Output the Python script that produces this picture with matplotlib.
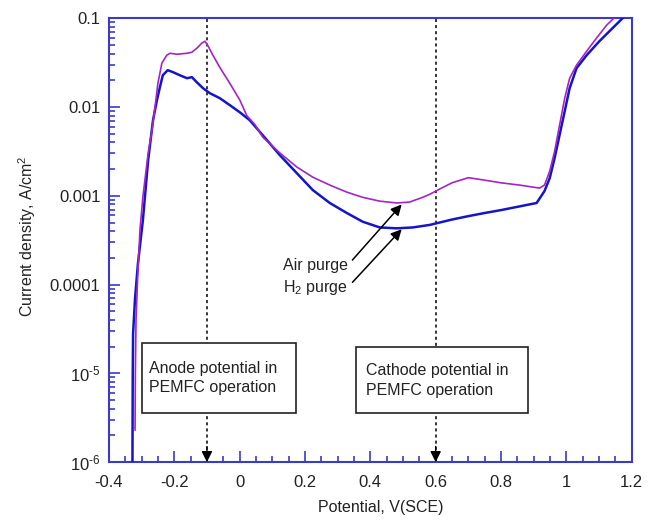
import numpy as np
import matplotlib
matplotlib.use('Agg')
import matplotlib.pyplot as plt
from matplotlib.patches import Rectangle
from matplotlib.ticker import FixedLocator, FixedFormatter, LogLocator, MultipleLocator, NullFormatter

plt.rcParams['font.family'] = ['Liberation Sans', 'DejaVu Sans']
plt.rcParams['mathtext.fontset'] = 'custom'
plt.rcParams['mathtext.rm'] = 'Liberation Sans'
plt.rcParams['mathtext.it'] = 'Liberation Sans:italic'

# H2 purge (blue)
h2_v = [-0.328, -0.327, -0.326, -0.320, -0.311, -0.296, -0.280, -0.265, -0.253, -0.244,
        -0.235, -0.220, -0.204, -0.183, -0.161, -0.146, -0.131, -0.112, -0.091, -0.061,
        -0.030, 0.001, 0.031, 0.071, 0.123, 0.175, 0.224, 0.276, 0.328, 0.377,
        0.429, 0.481, 0.530, 0.582, 0.650, 0.700, 0.750, 0.800, 0.857, 0.909,
        0.933, 0.949, 0.964, 0.979, 0.995, 1.010, 1.031, 1.062, 1.101, 1.141,
        1.172]
h2_i = [8e-7, 1e-5, 2.8e-5, 7e-5, 1.74e-4, 5.3e-4, 2.5e-3, 7.1e-3, 0.0119, 0.0167,
        0.0228, 0.0260, 0.0247, 0.0228, 0.0211, 0.0217, 0.0190, 0.0163, 0.0143, 0.0126,
        0.0105, 0.0087, 0.0071, 0.0048, 0.00287, 0.00180, 0.00116, 8.3e-4, 6.4e-4, 5.1e-4,
        4.4e-4, 4.3e-4, 4.4e-4, 4.7e-4, 5.4e-4, 5.9e-4, 6.4e-4, 6.9e-4, 7.6e-4, 8.3e-4,
        0.00113, 0.00158, 0.00266, 0.0048, 0.0090, 0.0163, 0.0273, 0.0383, 0.0551, 0.0772,
        0.100]

# Air purge (purple)
air_v = [-0.320, -0.319, -0.317, -0.312, -0.305, -0.296, -0.280, -0.268, -0.259, -0.250,
         -0.238, -0.223, -0.213, -0.192, -0.161, -0.146, -0.131, -0.116, -0.106, -0.097,
         -0.082, -0.061, -0.030, 0.001, 0.022, 0.046, 0.071, 0.123, 0.175, 0.224,
         0.276, 0.328, 0.377, 0.429, 0.481, 0.520, 0.560, 0.582, 0.610, 0.650,
         0.700, 0.750, 0.800, 0.857, 0.918, 0.933, 0.949, 0.964, 0.979, 0.995,
         1.010, 1.031, 1.062, 1.092, 1.123, 1.145]
air_i = [2.3e-6, 1e-5, 4e-5, 1.2e-4, 4.1e-4, 9.7e-4, 3e-3, 5.5e-3, 0.00995, 0.0185,
         0.0311, 0.0383, 0.0403, 0.0393, 0.0403, 0.0414, 0.0459, 0.0523, 0.0551, 0.0490,
         0.0385, 0.0281, 0.0185, 0.0119, 0.0080, 0.0064, 0.00457, 0.00304, 0.00211, 0.00162,
         0.00132, 0.00110, 9.6e-4, 8.7e-4, 8.3e-4, 8.5e-4, 9.6e-4, 0.00104, 0.00118, 0.0014,
         0.0016, 0.0015, 0.0014, 0.00132, 0.00122, 0.00132, 0.00189, 0.00317, 0.0062, 0.0126,
         0.0211, 0.0296, 0.0425, 0.0596, 0.0834, 0.100]

y_ticks = [1e-6, 1e-5, 1e-4, 1e-3, 1e-2, 1e-1]
y_labels = ['10$^{\\text{-6}}$', '10$^{\\text{-5}}$', '0.0001', '0.001', '0.01', '0.1']
x_ticks = [-0.4, -0.2, 0, 0.2, 0.4, 0.6, 0.8, 1, 1.2]
x_labels = ['-0.4', '-0.2', '0', '0.2', '0.4', '0.6', '0.8', '1', '1.2']

anode_v, cathode_v = -0.1, 0.6

axis_col = '#3a3ac8'
blue = '#1414c8'
purple = '#a424c8'

fig = plt.figure(figsize=(6.56, 5.21), dpi=100)
ax = fig.add_axes([0.166, 0.113, 0.797, 0.852])

ax.plot(h2_v, h2_i, color=blue, lw=1.8, zorder=3)
ax.plot(air_v, air_i, color=purple, lw=1.2, zorder=4)

ax.set_yscale('log')
ax.set_xlim(-0.4, 1.2)
ax.set_ylim(1e-6, 0.1)

ax.yaxis.set_major_locator(FixedLocator(y_ticks))
ax.yaxis.set_major_formatter(FixedFormatter(y_labels))
ax.yaxis.set_minor_locator(LogLocator(base=10, subs=np.arange(2, 10)))
ax.yaxis.set_minor_formatter(NullFormatter())
ax.xaxis.set_major_locator(FixedLocator(x_ticks))
ax.xaxis.set_major_formatter(FixedFormatter(x_labels))
ax.xaxis.set_minor_locator(MultipleLocator(0.05))

ax.tick_params(which='both', direction='in', color=axis_col, labelcolor='#222222',
               labelsize=12, top=False, right=False)
ax.tick_params(which='major', length=8, width=1.2)
ax.tick_params(which='minor', length=4.5, width=1.2)
ax.tick_params(axis='x', pad=9)
ax.tick_params(axis='y', pad=6)
for s in ax.spines.values():
    s.set_color(axis_col)
    s.set_linewidth(1.5)

ax.set_xlabel('Potential, V(SCE)', fontsize=11.5, color='#222222')
ax.set_ylabel('Current density, A/cm$^2$', fontsize=11.5, color='#222222')
ax.xaxis.set_label_coords(0.52, -0.085)
ax.yaxis.set_label_coords(-0.135, 0.51)

# dotted guide lines for operating potentials
for v in (anode_v, cathode_v):
    ax.plot([v, v], [1e-6, 0.1], color='k', lw=1.1, dashes=(2, 2), zorder=2)
    ax.annotate('', xy=(v, 1e-6), xytext=(v, 1.5e-6),
                arrowprops=dict(arrowstyle='-|>', color='k', lw=1,
                                mutation_scale=16, shrinkA=0, shrinkB=0), zorder=5)

# text boxes
ax.add_patch(Rectangle((-0.299, 3.56e-6), 0.471, 2.19e-5 - 3.56e-6,
                       facecolor='white', edgecolor='#222222', lw=1.2, zorder=6))
ax.text(-0.276, 8.95e-6, 'Anode potential in\nPEMFC operation', fontsize=11.5,
        ha='left', va='center', linespacing=1.35, color='#222222', zorder=7)
ax.add_patch(Rectangle((0.355, 3.6e-6), 0.529, 1.98e-5 - 3.6e-6,
                       facecolor='white', edgecolor='#222222', lw=1.2, zorder=6))
ax.text(0.386, 8.3e-6, 'Cathode potential in\nPEMFC operation', fontsize=11.5,
        ha='left', va='center', linespacing=1.35, color='#222222', zorder=7)

# curve labels
ax.annotate('Air purge', xy=(0.496, 8.0e-4), xytext=(0.331, 1.65e-4),
            ha='right', va='center', fontsize=11.5, color='#222222',
            arrowprops=dict(arrowstyle='-|>', color='k', lw=1.1, mutation_scale=16,
                            relpos=(1, 0.5), shrinkA=2, shrinkB=0))
ax.annotate('H$_2$ purge', xy=(0.496, 4.2e-4), xytext=(0.331, 9.3e-5),
            ha='right', va='center', fontsize=11.5, color='#222222',
            arrowprops=dict(arrowstyle='-|>', color='k', lw=1.1, mutation_scale=16,
                            relpos=(1, 0.5), shrinkA=2, shrinkB=0))

fig.savefig('out.png', dpi=100)
